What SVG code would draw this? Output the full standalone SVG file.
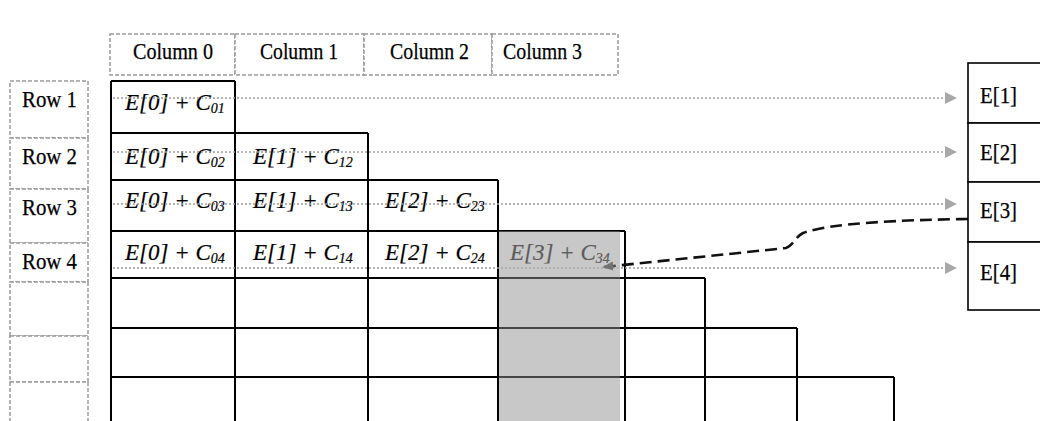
<svg xmlns="http://www.w3.org/2000/svg" width="1040" height="421" viewBox="0 0 1040 421">
<style>
.hdr{fill:#fff;stroke:#9a9a9a;stroke-width:1.5;stroke-dasharray:4 2}
.lbl{font-family:"Liberation Serif","Times New Roman",serif;font-size:24px;fill:#000;stroke:#000;stroke-width:0.25}
.cell{font-family:"Liberation Serif","Times New Roman",serif;font-style:italic;font-size:23px;fill:#000;stroke:#000;stroke-width:0.2}
.sub{font-size:14px}
.grid{stroke:#000;stroke-width:2;fill:none}
.dot{stroke:#9a9a9a;stroke-width:1.6;stroke-dasharray:2 2;fill:none}
.ebox{fill:#fff;stroke:#000;stroke-width:1.6}
</style>
<defs>
<marker id="tri" viewBox="0 0 12 12" refX="12" refY="6" markerWidth="12" markerHeight="12" markerUnits="userSpaceOnUse" orient="auto">
<path d="M0,0 L12,6 L0,12 Z" fill="#a8a8a8"/>
</marker>
<marker id="dk" viewBox="0 0 12 12" refX="10" refY="6" markerWidth="11" markerHeight="11" markerUnits="userSpaceOnUse" orient="auto">
<path d="M0,1 L12,6 L0,11 Z" fill="#444"/>
</marker>
</defs>
<rect width="1040" height="421" fill="#fff"/>

<g id="column-headers">
<rect class="hdr" x="110" y="34" width="125" height="41"/>
<rect class="hdr" x="235" y="34" width="129" height="41"/>
<rect class="hdr" x="364" y="34" width="128" height="41"/>
<rect class="hdr" x="492" y="34" width="126" height="41"/>
<text class="lbl" x="133" y="59" textLength="80" lengthAdjust="spacingAndGlyphs">Column 0</text>
<text class="lbl" x="260" y="59" textLength="78" lengthAdjust="spacingAndGlyphs">Column 1</text>
<text class="lbl" x="390" y="59" textLength="79" lengthAdjust="spacingAndGlyphs">Column 2</text>
<text class="lbl" x="503" y="59" textLength="79" lengthAdjust="spacingAndGlyphs">Column 3</text>
</g>

<g id="row-labels">
<rect class="hdr" x="10" y="81" width="78" height="57"/>
<rect class="hdr" x="10" y="138" width="78" height="51"/>
<rect class="hdr" x="10" y="189" width="78" height="54"/>
<rect class="hdr" x="10" y="243" width="78" height="39"/>
<rect class="hdr" x="10" y="282" width="78" height="54"/>
<rect class="hdr" x="10" y="336" width="78" height="46"/>
<rect class="hdr" x="10" y="382" width="78" height="50"/>
<text class="lbl" x="22" y="107" textLength="55" lengthAdjust="spacingAndGlyphs">Row 1</text>
<text class="lbl" x="22" y="164" textLength="55" lengthAdjust="spacingAndGlyphs">Row 2</text>
<text class="lbl" x="22" y="215" textLength="55" lengthAdjust="spacingAndGlyphs">Row 3</text>
<text class="lbl" x="22" y="269" textLength="55" lengthAdjust="spacingAndGlyphs">Row 4</text>
</g>

<g id="highlight-column">
<rect x="498" y="231" width="122" height="195" fill="#c8c8c8"/>
</g>

<g id="table-grid">
<path class="grid" d="M111 81H235 M111 133H368 M111 180H498 M111 231H625 M111 278H705 M111 328H797 M111 377H894"/>
<path class="grid" d="M111 81V425 M235 81V425 M368 133V425 M498 180V425 M625 231V425 M705 278V425 M797 328V425 M894 377V425"/>
</g>

<g id="cells">
<text class="cell" x="125" y="110">E[0] + C<tspan class="sub" dy="3">01</tspan></text>
<text class="cell" x="125" y="164">E[0] + C<tspan class="sub" dy="3">02</tspan></text>
<text class="cell" x="253" y="164">E[1] + C<tspan class="sub" dy="3">12</tspan></text>
<text class="cell" x="125" y="208">E[0] + C<tspan class="sub" dy="3">03</tspan></text>
<text class="cell" x="253" y="208">E[1] + C<tspan class="sub" dy="3">13</tspan></text>
<text class="cell" x="385" y="208">E[2] + C<tspan class="sub" dy="3">23</tspan></text>
<text class="cell" x="125" y="260">E[0] + C<tspan class="sub" dy="3">04</tspan></text>
<text class="cell" x="253" y="260">E[1] + C<tspan class="sub" dy="3">14</tspan></text>
<text class="cell" x="385" y="260">E[2] + C<tspan class="sub" dy="3">24</tspan></text>
<text class="cell" x="510" y="260" style="fill:#222;stroke:#222">E[3] + C<tspan class="sub" dy="3">34</tspan></text>
</g>

<g id="connectors">
<path class="dot" d="M113 98H957" marker-end="url(#tri)"/>
<path class="dot" d="M113 152H957" marker-end="url(#tri)"/>
<path class="dot" d="M113 204H957" marker-end="url(#tri)"/>
<path class="dot" d="M113 268H957" marker-end="url(#tri)"/>
<path d="M968 219 C900 220 830 223 803 233 C795 237 794 245 786 248 L604 267" fill="none" stroke="#111" stroke-width="2.6" stroke-dasharray="12 6" marker-end="url(#dk)"/>
</g>

<g id="highlight-overlay">
<rect x="499" y="231" width="121" height="195" fill="#c8c8c8" opacity="0.35"/>
</g>

<g id="e-array">
<rect class="ebox" x="968" y="63" width="80" height="60"/>
<rect class="ebox" x="968" y="123" width="80" height="59"/>
<rect class="ebox" x="968" y="182" width="80" height="60"/>
<rect class="ebox" x="968" y="242" width="80" height="68"/>
<text class="lbl" x="980" y="103" textLength="37" lengthAdjust="spacingAndGlyphs">E[1]</text>
<text class="lbl" x="980" y="160" textLength="37" lengthAdjust="spacingAndGlyphs">E[2]</text>
<text class="lbl" x="980" y="218" textLength="37" lengthAdjust="spacingAndGlyphs">E[3]</text>
<text class="lbl" x="980" y="280" textLength="37" lengthAdjust="spacingAndGlyphs">E[4]</text>
</g>
</svg>
